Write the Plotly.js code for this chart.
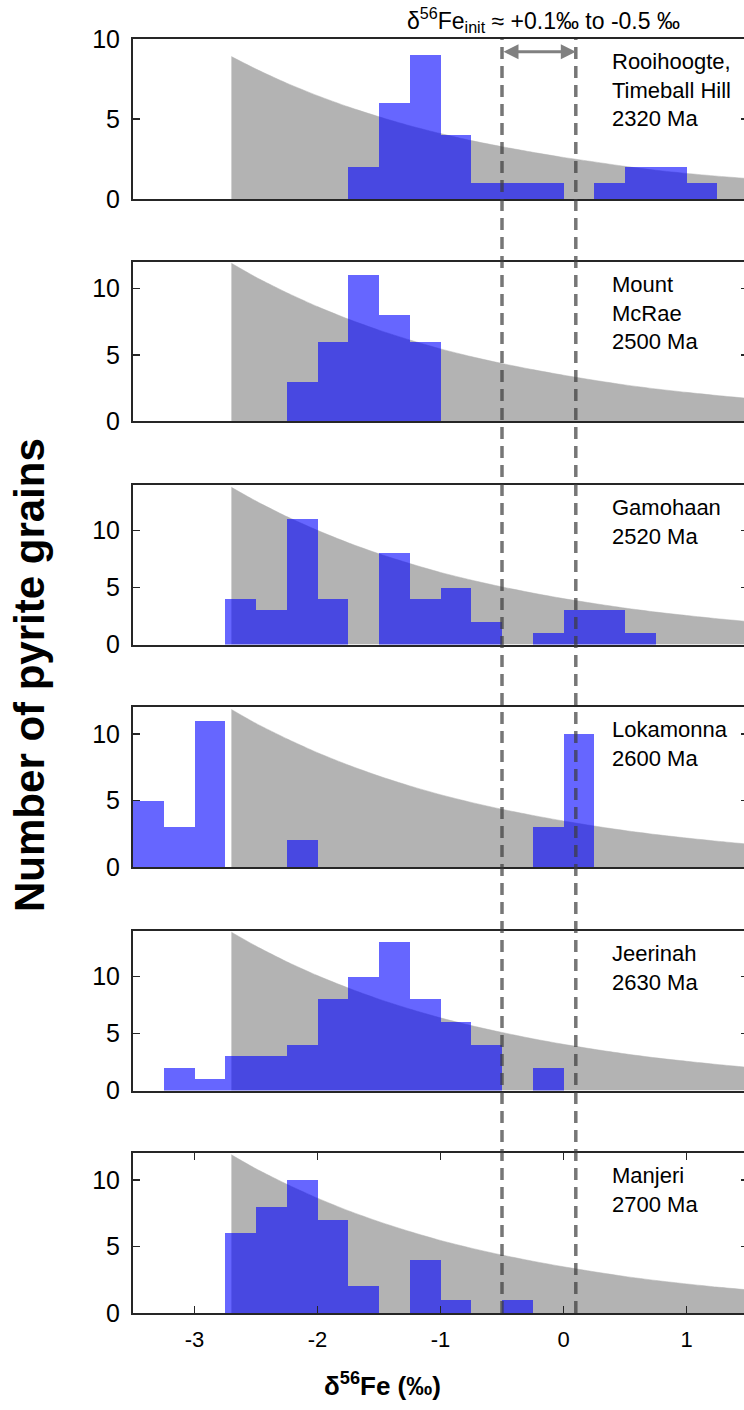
<!DOCTYPE html>
<html><head><meta charset="utf-8">
<script src="https://cdn.plot.ly/plotly-3.0.1.min.js"></script>
<style>html,body{margin:0;padding:0;overflow:hidden;background:#fff}#chart{width:750px;height:1410px}</style>
</head><body><div id="chart"></div>
<script>
// bin left edges (width 0.25 ‰)
const binStarts = [-3.5,-3.25,-3.0,-2.75,-2.5,-2.25,-2.0,-1.75,-1.5,-1.25,-1.0,-0.75,-0.5,-0.25,0.0,0.25,0.5,0.75,1.0,1.25];
const countsRooihoogte = [0,0,0,0,0,0,0,2,6,9,4,1,1,1,0,1,2,2,1,0];
const countsMcRae      = [0,0,0,0,0,3,6,11,8,6,0,0,0,0,0,0,0,0,0,0];
const countsGamohaan   = [0,0,0,4,3,11,4,0,8,4,5,2,0,1,3,3,1,0,0,0];
const countsLokamonna  = [5,3,11,0,0,2,0,0,0,0,0,0,0,3,10,0,0,0,0,0];
const countsJeerinah   = [0,2,1,3,3,4,8,10,13,8,6,4,0,2,0,0,0,0,0,0];
const countsManjeri    = [0,0,0,6,8,10,7,2,0,4,1,0,1,0,0,0,0,0,0,0];

// grey model curve
const curveX = [-2.7,-2.5,-2.25,-2.0,-1.75,-1.5,-1.25,-1.0,-0.75,-0.5,-0.25,0,0.25,0.5,0.75,1.0,1.25,1.5];
const curveRooihoogte = [8.9,8.12,7.24,6.46,5.76,5.14,4.58,4.09,3.65,3.27,2.92,2.6,2.32,2.04,1.8,1.6,1.43,1.28];
const curveMcRae      = [11.9,10.85,9.69,8.64,7.7,6.87,6.13,5.46,4.88,4.36,3.9,3.48,3.1,2.75,2.45,2.19,1.95,1.74];
const curveGamohaan   = [13.8,12.59,11.23,10.02,8.93,7.96,7.11,6.33,5.66,5.06,4.52,4.03,3.6,3.2,2.85,2.55,2.27,2.02];
const curveLokamonna  = [11.85,10.8,9.65,8.6,7.67,6.84,6.1,5.44,4.86,4.34,3.88,3.46,3.08,2.74,2.44,2.18,1.94,1.72];
const curveJeerinah   = [13.9,12.68,11.31,10.09,9.0,8.02,7.16,6.38,5.7,5.1,4.55,4.06,3.62,3.22,2.87,2.57,2.29,2.04];
const curveManjeri    = [11.9,10.85,9.69,8.64,7.7,6.87,6.13,5.46,4.88,4.36,3.9,3.48,3.1,2.75,2.45,2.19,1.95,1.74];

const panelNames = ["Rooihoogte,<br>Timeball Hill<br>2320 Ma","Mount<br>McRae<br>2500 Ma","Gamohaan<br>2520 Ma","Lokamonna<br>2600 Ma","Jeerinah<br>2630 Ma","Manjeri<br>2700 Ma"];
const yMax = [10,12,14,12,14,12];
const yTicks = [0,5,10];
const xTickVals = [-3,-2,-1,0,1];
const xTickText = ["-3","-2","-1","0","1"];
const initLow = -0.5, initHigh = 0.1;

const counts = [countsRooihoogte,countsMcRae,countsGamohaan,countsLokamonna,countsJeerinah,countsManjeri];
const curves = [curveRooihoogte,curveMcRae,curveGamohaan,curveLokamonna,curveJeerinah,curveManjeri];

const FONT = "Liberation Sans, Arial, Helvetica, sans-serif";
const yDomains = [[0.8744,1],[0.6998,0.8250],[0.5247,0.6499],[0.3501,0.4753],[0.1746,0.2998],[0,0.1252]];
const lineCol = "#262626";

const data = [];
const layout = {
  width: 750, height: 1410,
  margin: {l: 133, r: 2, t: 39, b: 97},
  paper_bgcolor: "#fff", plot_bgcolor: "rgba(0,0,0,0)",
  showlegend: false, bargap: 0, bargroupgap: 0,
  font: {family: FONT, color: "#000"},
  shapes: [], annotations: []
};

for (let i = 0; i < 6; i++) {
  const s = i === 0 ? "" : String(i + 1);
  const so = String(i + 7); // overlay axis for bars (drawn above the grey curve)
  data.push({
    type: "scatter", mode: "lines", x: curveX, y: curves[i],
    xaxis: "x" + s, yaxis: "y" + s,
    fill: "tozeroy", fillcolor: "#b3b3b3",
    line: {color: "#b3b3b3", width: 0.5, shape: "spline", smoothing: 0.6},
    hoverinfo: "skip"
  });
  data.push({
    type: "bar", x: binStarts, y: counts[i], width: 0.25, offset: 0,
    xaxis: "x" + s, yaxis: "y" + so,
    marker: {color: "rgba(0,0,255,0.6)", line: {width: 0}}
  });
  const last = i === 5;
  layout["xaxis" + s] = {
    domain: [0, 1], anchor: "y" + s, range: [-3.5, 1.5],
    showline: true, mirror: last ? "ticks" : true, linecolor: lineCol, linewidth: 2,
    showgrid: false, zeroline: false,
    ticks: last ? "inside" : "", ticklen: 7, tickwidth: 1.5, tickcolor: lineCol,
    tickvals: xTickVals, ticktext: xTickText,
    showticklabels: last, tickfont: {size: 22, family: FONT, color: "#000"},
    ticklabelstandoff: 6
  };
  layout["yaxis" + s] = {
    domain: yDomains[i], anchor: "x" + s, range: [0, yMax[i]],
    showline: true, mirror: "ticks", linecolor: lineCol, linewidth: 2,
    showgrid: false, zeroline: false,
    ticks: "inside", ticklen: 7, tickwidth: 1.5, tickcolor: lineCol,
    tickvals: yTicks, tickfont: {size: 25, family: FONT, color: "#000"},
    ticklabelstandoff: 6
  };
  layout["yaxis" + so] = {
    overlaying: "y" + s, anchor: "x" + s, range: [0, yMax[i]],
    showline: false, showgrid: false, zeroline: false, showticklabels: false, ticks: ""
  };
  layout.annotations.push({
    xref: "paper", yref: "paper", x: 0.7756, y: yDomains[i][1],
    xanchor: "left", yanchor: "top", yshift: -8, align: "left",
    text: panelNames[i], showarrow: false,
    font: {size: 22, family: FONT, color: "#000"}
  });
}

// dashed lines for initial δ56Fe range
[initLow, initHigh].forEach(v => layout.shapes.push({
  type: "line", xref: "x", yref: "paper", x0: v, x1: v, y0: 0, y1: 1,
  line: {color: "rgba(60,60,60,0.7)", width: 3.5, dash: "12px,7px"}, layer: "above"
}));

// double-headed arrow
layout.annotations.push({
  xref: "x", yref: "y", axref: "x", ayref: "y",
  x: initHigh, y: 9.2, ax: initLow, ay: 9.2, text: "",
  showarrow: true, arrowside: "end+start", arrowhead: 2, arrowsize: 1,
  arrowwidth: 3, arrowcolor: "#808080", standoff: 0, startstandoff: 0
});

// top text
layout.annotations.push({
  xref: "paper", yref: "paper", x: 0.6667, y: 1.015, xanchor: "center", yanchor: "middle",
  text: "δ<sup>56</sup>Fe<sub>init</sub> ≈ +0.1‰ to -0.5 ‰", showarrow: false,
  font: {size: 23, family: FONT, color: "#000"}
});
// x title
layout.annotations.push({
  xref: "paper", yref: "paper", x: 0.4065, y: -0.0565, xanchor: "center", yanchor: "middle",
  text: "<b>δ<sup>56</sup>Fe (‰)</b>", showarrow: false,
  font: {size: 26, family: FONT, color: "#000"}
});
// y title
layout.annotations.push({
  xref: "paper", yref: "paper", x: -0.1675, y: 0.5008, xanchor: "center", yanchor: "middle",
  text: "<b>Number of pyrite grains</b>", showarrow: false, textangle: -90,
  font: {size: 42, family: FONT, color: "#000"}
});

Plotly.newPlot("chart", data, layout, {staticPlot: true, displayModeBar: false});
</script></body></html>
